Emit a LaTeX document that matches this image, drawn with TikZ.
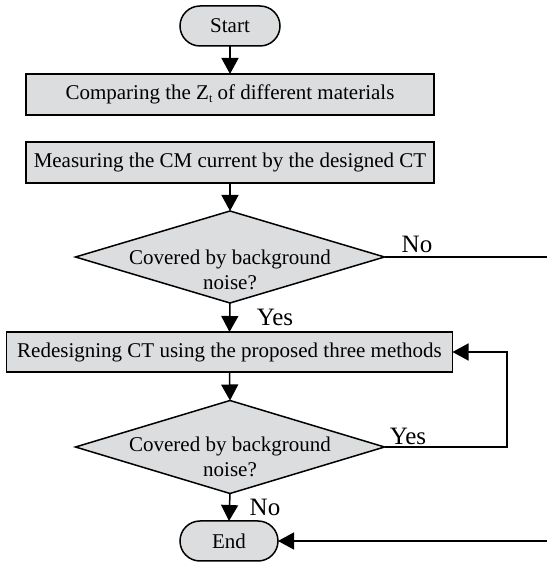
\documentclass[tikz,border=0pt]{standalone}
\usepackage{fontspec}
\setmainfont{Liberation Serif}
\usetikzlibrary{shapes.geometric,arrows.meta}
\begin{document}
\begin{tikzpicture}[x=1pt,y=1pt,
  every node/.style={inner sep=0pt,outer sep=0pt},
  base/.style={draw=black,line width=1.5pt,fill=boxgray,font=\fontsize{21}{25}\selectfont},
  term/.style={base,rounded corners=20pt,minimum width=100pt,minimum height=40pt},
  proc/.style={base,minimum width=408pt,minimum height=41pt},
  dec/.style={base,shape=diamond,minimum width=309pt,minimum height=92pt},
  dectext/.style={align=center,font=\fontsize{21}{25}\selectfont},
  lab/.style={font=\fontsize{25}{30}\selectfont},
  conn/.style={line width=1.5pt,draw=black},
  arr/.style={conn,-{Triangle[length=16pt,width=17pt]}}
]
\definecolor{boxgray}{RGB}{220,221,222}
\useasboundingbox (0,0) rectangle (547,566);
\node[term] (start) at (230,540) {Start};
\node[proc] (cmp) at (230,471.5) {Comparing the Z\raisebox{-3pt}{\fontsize{12}{12}\selectfont t} of different materials};
\node[proc] (meas) at (230,403.5) {Measuring the CM current by the designed CT};
\node[dec] (d1) at (230,309) {};
\node[dectext] at (230,296) {Covered by background\\noise?};
\node[proc,minimum width=446pt,minimum height=40pt] (red) at (229.5,214) {Redesigning CT using the proposed three methods};
\node[dec,minimum height=93pt] (d2) at (230,119) {};
\node[dectext] at (230,109) {Covered by background\\noise?};
\node[term,minimum width=98pt] (end) at (229,25) {End};
\coordinate (o1) at (547,309);
\coordinate (o2) at (547,25);
\coordinate (fb) at (507,119);
\draw[arr] (start.south) -- (cmp.north);
\draw[arr] (meas.south) -- (d1.north);
\draw[arr] (d1.south) -- (red.north);
\draw[arr] (red.south) -- (d2.north);
\draw[arr] (d2.south) -- (end.north);
\draw[conn] (d1.east) -- (o1);
\draw[arr] (d2.east) -- (fb) |- (red.east);
\draw[arr] (o2) -- (end.east);
\node[lab] (l1) at (417,322) {No};
\node[lab] (l2) at (275,249) {Yes};
\node[lab] (l3) at (408,130) {Yes};
\node[lab] (l4) at (265,59) {No};
\end{tikzpicture}
\end{document}
